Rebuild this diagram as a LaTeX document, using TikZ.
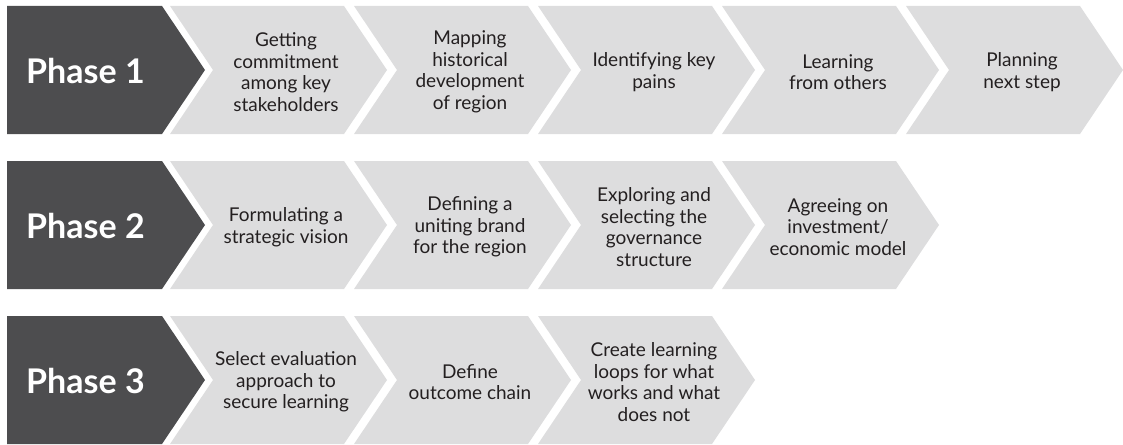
\documentclass[tikz,border=0pt]{standalone}
\usepackage{fontspec}
\setmainfont{Lato}
\definecolor{phasegray}{RGB}{77,77,79}
\definecolor{stepgray}{RGB}{221,221,222}
\definecolor{steptext}{RGB}{35,31,32}

\begin{document}
\begin{tikzpicture}[x=1pt, y=-1pt,
    phasetext/.style={anchor=west, text=white, font=\fontsize{34}{40}\selectfont\bfseries, inner sep=0pt},
    steptext/.style={align=center, text=steptext, font=\fontsize{19}{21.5}\selectfont, inner sep=0pt}]
    \useasboundingbox (0, 0) rectangle (1123, 444);

    % Phase 1
    \fill[phasegray] (7, 6) -- (162, 6) -- (205, 70) -- (162, 134) -- (7, 134) -- cycle;
    \fill[stepgray] (170, 6) -- (344, 6) -- (387, 70) -- (344, 134) -- (170, 134) -- (213, 70) -- cycle;
    \fill[stepgray] (354, 6) -- (528, 6) -- (571, 70) -- (528, 134) -- (354, 134) -- (397, 70) -- cycle;
    \fill[stepgray] (538, 6) -- (712, 6) -- (755, 70) -- (712, 134) -- (538, 134) -- (581, 70) -- cycle;
    \fill[stepgray] (722, 6) -- (896, 6) -- (939, 70) -- (896, 134) -- (722, 134) -- (765, 70) -- cycle;
    \fill[stepgray] (906, 6) -- (1080, 6) -- (1123, 70) -- (1080, 134) -- (906, 134) -- (949, 70) -- cycle;
    \node[phasetext] (phase1) at (26, 71) {Phase 1};
    \node[steptext] (commit) at (286, 72) {Getting\\commitment\\among key\\stakeholders};
    \node[steptext] (history) at (470, 72) {Mapping\\historical\\development\\of region};
    \node[steptext] (pains) at (654, 72) {Identifying key\\pains};
    \node[steptext] (others) at (838, 72) {Learning\\from others};
    \node[steptext] (nextstep) at (1022, 72) {Planning\\next step};

    % Phase 2
    \fill[phasegray] (7, 161) -- (162, 161) -- (205, 225) -- (162, 289) -- (7, 289) -- cycle;
    \fill[stepgray] (170, 161) -- (344, 161) -- (387, 225) -- (344, 289) -- (170, 289) -- (213, 225) -- cycle;
    \fill[stepgray] (354, 161) -- (528, 161) -- (571, 225) -- (528, 289) -- (354, 289) -- (397, 225) -- cycle;
    \fill[stepgray] (538, 161) -- (712, 161) -- (755, 225) -- (712, 289) -- (538, 289) -- (581, 225) -- cycle;
    \fill[stepgray] (722, 161) -- (896, 161) -- (939, 225) -- (896, 289) -- (722, 289) -- (765, 225) -- cycle;
    \node[phasetext] (phase2) at (26, 226) {Phase 2};
    \node[steptext] (vision) at (286, 227) {Formulating a\\strategic vision};
    \node[steptext] (brand) at (470, 227) {Defining a\\uniting brand\\for the region};
    \node[steptext] (governance) at (654, 227) {Exploring and\\selecting the\\governance\\structure};
    \node[steptext] (investment) at (838, 227) {Agreeing on\\investment/\\economic model};

    % Phase 3
    \fill[phasegray] (7, 316) -- (162, 316) -- (205, 380) -- (162, 444) -- (7, 444) -- cycle;
    \fill[stepgray] (170, 316) -- (344, 316) -- (387, 380) -- (344, 444) -- (170, 444) -- (213, 380) -- cycle;
    \fill[stepgray] (354, 316) -- (528, 316) -- (571, 380) -- (528, 444) -- (354, 444) -- (397, 380) -- cycle;
    \fill[stepgray] (538, 316) -- (712, 316) -- (755, 380) -- (712, 444) -- (538, 444) -- (581, 380) -- cycle;
    \node[phasetext] (phase3) at (26, 381) {Phase 3};
    \node[steptext] (evaluation) at (286, 382) {Select evaluation\\approach to\\secure learning};
    \node[steptext] (outcome) at (470, 382) {Define\\outcome chain};
    \node[steptext] (loops) at (654, 382) {Create learning\\loops for what\\works and what\\does not};
\end{tikzpicture}
\end{document}
